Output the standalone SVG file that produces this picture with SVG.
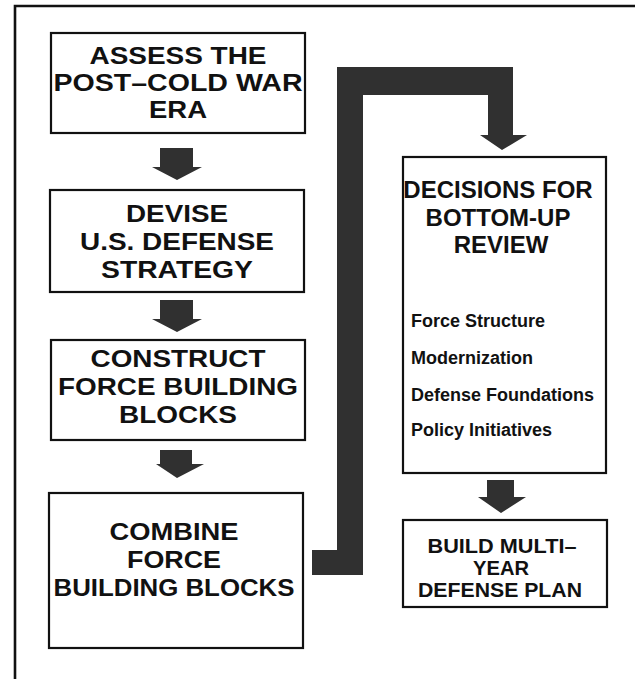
<svg xmlns="http://www.w3.org/2000/svg" width="635" height="679" viewBox="0 0 635 679">
<style>
.box{fill:#fff;stroke:#111;stroke-width:2.2}
.t{font-family:"Liberation Sans",Arial,Helvetica,sans-serif;font-weight:bold;fill:#111;text-anchor:middle}
.big{font-size:24px}
.mid{font-size:24px}
.b6{font-size:19.5px}
.sm{font-size:18px;text-anchor:start}
.arr{fill:#303030}
.frame{stroke:#111;stroke-width:2.6;fill:none}
</style>
<rect width="635" height="679" fill="#fff"/>
<path class="frame" d="M15,679 V6 H635"/>
<g id="connectors">
<path class="arr" d="M160,148 H193 V167 H202 L177,180 L152,167 H160 Z"/>
<path class="arr" d="M160,300 H193 V319 H202 L177,332 L152,319 H160 Z"/>
<path class="arr" d="M160,450 H192 V464 H204 L177,478 L156,464 H160 Z"/>
<path class="arr" d="M487,480 H514 V497 H526 L501,513 L478,497 H487 Z"/>
<path class="arr" d="M337,67 H513 V135 H527 L502,150 L480,135 H488 V95 H363 V575 H312 V550 H337 Z"/>
</g>
<g id="assess">
<rect class="box" x="51" y="33" width="254" height="100"/>
<text class="t big" x="178" y="64" textLength="177" lengthAdjust="spacingAndGlyphs">ASSESS THE</text>
<text class="t big" x="178" y="91" textLength="249" lengthAdjust="spacingAndGlyphs">POST–COLD WAR</text>
<text class="t big" x="178" y="118" textLength="58" lengthAdjust="spacingAndGlyphs">ERA</text>
</g>
<g id="devise">
<rect class="box" x="50" y="190" width="254" height="102"/>
<text class="t big" x="177" y="222" textLength="102" lengthAdjust="spacingAndGlyphs">DEVISE</text>
<text class="t big" x="177" y="250" textLength="194" lengthAdjust="spacingAndGlyphs">U.S. DEFENSE</text>
<text class="t big" x="177" y="278" textLength="152" lengthAdjust="spacingAndGlyphs">STRATEGY</text>
</g>
<g id="construct">
<rect class="box" x="51" y="340" width="254" height="100"/>
<text class="t big" x="178" y="367" textLength="175" lengthAdjust="spacingAndGlyphs">CONSTRUCT</text>
<text class="t big" x="178" y="395" textLength="240" lengthAdjust="spacingAndGlyphs">FORCE BUILDING</text>
<text class="t big" x="178" y="423" textLength="118" lengthAdjust="spacingAndGlyphs">BLOCKS</text>
</g>
<g id="combine">
<rect class="box" x="49" y="493" width="254" height="155"/>
<text class="t big" x="174" y="540" textLength="129" lengthAdjust="spacingAndGlyphs">COMBINE</text>
<text class="t big" x="174" y="568" textLength="94" lengthAdjust="spacingAndGlyphs">FORCE</text>
<text class="t big" x="174" y="596" textLength="241" lengthAdjust="spacingAndGlyphs">BUILDING BLOCKS</text>
</g>
<g id="decisions">
<rect class="box" x="403" y="157" width="203" height="316"/>
<text class="t mid" x="498" y="198">DECISIONS FOR</text>
<text class="t mid" x="498" y="226">BOTTOM-UP</text>
<text class="t mid" x="501" y="253">REVIEW</text>
<text class="t sm" x="411" y="327">Force Structure</text>
<text class="t sm" x="411" y="364">Modernization</text>
<text class="t sm" x="411" y="401">Defense Foundations</text>
<text class="t sm" x="411" y="436">Policy Initiatives</text>
</g>
<g id="build">
<rect class="box" x="403" y="520" width="204" height="87"/>
<text class="t b6" x="502" y="553" textLength="149" lengthAdjust="spacingAndGlyphs">BUILD MULTI–</text>
<text class="t b6" x="501" y="575" textLength="56" lengthAdjust="spacingAndGlyphs">YEAR</text>
<text class="t b6" x="500" y="597" textLength="164" lengthAdjust="spacingAndGlyphs">DEFENSE PLAN</text>
</g>
</svg>
